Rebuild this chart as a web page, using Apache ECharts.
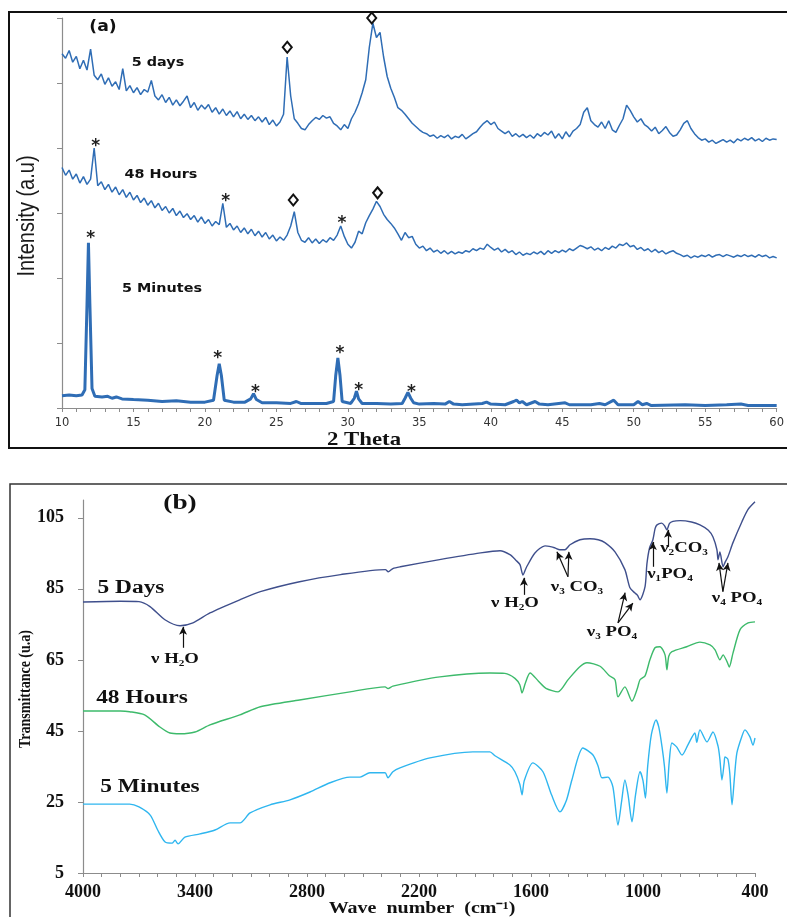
<!DOCTYPE html>
<html><head><meta charset="utf-8">
<script src="https://cdn.jsdelivr.net/npm/echarts@6/dist/echarts.min.js"></script>
<style>html,body{margin:0;padding:0;background:#fff}#c{width:787px;height:917px}</style>
</head><body><div id="c"></div>
<script>
// ---------- (a) XRD ----------
const xrdStart = 10, xrdStep = 0.25;   // sampling grid of the read curves
const xrd5Days = [5.45,5.38,5.50,5.32,5.41,5.22,5.35,5.20,5.52,5.12,
 5.05,5.14,4.98,5.08,4.95,5.02,4.90,5.22,4.88,4.96,
 4.85,4.93,4.82,4.90,4.86,5.04,4.80,4.74,4.82,4.70,
 4.78,4.66,4.74,4.65,4.72,4.80,4.62,4.70,4.58,4.66,
 4.60,4.67,4.55,4.62,4.52,4.60,4.50,4.57,4.48,4.56,
 4.45,4.52,4.44,4.50,4.42,4.48,4.40,4.47,4.36,4.43,
 4.34,4.40,4.52,5.40,4.80,4.45,4.38,4.30,4.28,4.36,
 4.42,4.47,4.44,4.50,4.46,4.48,4.38,4.34,4.28,4.36,
 4.30,4.45,4.55,4.68,4.85,5.05,5.55,5.92,5.70,5.78,
 5.40,5.10,4.92,4.78,4.62,4.58,4.52,4.45,4.38,4.33,
 4.28,4.24,4.22,4.18,4.20,4.15,4.19,4.16,4.20,4.14,
 4.18,4.16,4.21,4.14,4.18,4.22,4.25,4.32,4.38,4.42,
 4.36,4.40,4.30,4.26,4.22,4.26,4.18,4.22,4.17,4.21,
 4.16,4.20,4.15,4.22,4.18,4.24,4.20,4.26,4.15,4.22,
 4.14,4.25,4.17,4.26,4.30,4.36,4.55,4.62,4.42,4.36,
 4.32,4.40,4.30,4.42,4.28,4.24,4.35,4.45,4.66,4.58,
 4.48,4.40,4.45,4.36,4.32,4.26,4.32,4.22,4.27,4.33,
 4.24,4.18,4.20,4.28,4.38,4.42,4.30,4.22,4.16,4.12,
 4.14,4.09,4.12,4.07,4.10,4.13,4.09,4.12,4.08,4.14,
 4.11,4.15,4.12,4.16,4.11,4.14,4.10,4.15,4.12,4.14,
 4.13];
const xrd48Hours = [3.70,3.58,3.66,3.52,3.60,3.46,3.56,3.44,3.52,4.00,
 3.42,3.48,3.36,3.44,3.32,3.40,3.28,3.36,3.24,3.32,
 3.20,3.27,3.16,3.23,3.12,3.19,3.08,3.15,3.04,3.10,
 3.00,3.07,2.96,3.03,2.93,2.99,2.90,2.96,2.86,2.94,
 2.84,2.90,2.80,2.87,2.82,3.15,2.78,2.84,2.74,2.80,
 2.70,2.77,2.68,2.75,2.65,2.72,2.63,2.70,2.60,2.66,
 2.57,2.63,2.58,2.66,2.80,3.02,2.70,2.58,2.55,2.62,
 2.54,2.60,2.53,2.59,2.55,2.62,2.58,2.66,2.80,2.64,
 2.52,2.46,2.55,2.72,2.68,2.85,2.96,3.06,3.18,3.10,
 2.98,2.90,2.84,2.77,2.68,2.58,2.70,2.62,2.64,2.52,
 2.46,2.49,2.42,2.46,2.40,2.43,2.38,2.42,2.37,2.41,
 2.37,2.40,2.38,2.42,2.40,2.45,2.42,2.46,2.44,2.52,
 2.47,2.43,2.46,2.40,2.44,2.39,2.42,2.36,2.40,2.35,
 2.38,2.36,2.40,2.37,2.41,2.36,2.42,2.38,2.42,2.39,
 2.43,2.40,2.45,2.42,2.46,2.50,2.48,2.45,2.48,2.43,
 2.46,2.42,2.47,2.44,2.49,2.46,2.52,2.50,2.54,2.48,
 2.50,2.44,2.47,2.42,2.45,2.40,2.44,2.39,2.42,2.37,
 2.40,2.42,2.38,2.36,2.33,2.35,2.31,2.34,2.32,2.35,
 2.33,2.36,2.32,2.35,2.36,2.33,2.36,2.34,2.32,2.35,
 2.33,2.36,2.33,2.35,2.32,2.36,2.33,2.35,2.31,2.33,
 2.31];
const xrd5MinTheta = [10,10.5,11,11.4,11.6,11.75,11.85,11.95,12.1,12.3,12.8,13.2,13.5,13.8,14.2,15,16,17,18,19,20,20.6,20.85,21,21.15,21.35,22,22.8,23.2,23.4,23.6,24,25,26,26.4,26.7,27.5,28.5,29,29.15,29.3,29.45,29.6,30.2,30.45,30.6,30.75,31,32,33,33.8,34,34.2,34.4,34.6,35,36,36.8,37.1,37.4,38,39.4,39.7,40,41,41.6,41.8,42,42.2,42.5,43.1,43.4,44,45.2,45.5,47,47.6,48,48.6,48.9,50,50.3,50.6,50.9,51.2,53.6,55,56.5,57.5,58,60];
const xrd5MinVal = [0.19,0.20,0.19,0.20,0.28,1.60,2.54,1.60,0.30,0.18,0.17,0.18,0.15,0.17,0.14,0.13,0.12,0.10,0.11,0.09,0.09,0.12,0.50,0.68,0.50,0.12,0.09,0.09,0.14,0.22,0.13,0.08,0.08,0.07,0.10,0.07,0.07,0.07,0.10,0.50,0.77,0.50,0.10,0.07,0.15,0.26,0.14,0.07,0.07,0.06,0.07,0.15,0.24,0.15,0.08,0.06,0.07,0.06,0.10,0.06,0.05,0.07,0.09,0.06,0.05,0.10,0.12,0.08,0.10,0.05,0.10,0.06,0.05,0.08,0.05,0.05,0.07,0.05,0.12,0.05,0.05,0.10,0.05,0.07,0.04,0.05,0.04,0.05,0.06,0.04,0.04];
const xrdTicks = [10,15,20,25,30,35,40,45,50,55,60];
// peak markers: [theta, intensity]
const diamondMarks = [[25.76,5.55],[31.67,6.0],[26.18,3.2],[32.08,3.31]];
const starMarks = [[12.36,4.1],[21.46,3.26],[29.58,2.91],[12.01,2.68],[20.9,0.83],[23.54,0.32],[29.44,0.92],[30.76,0.34],[34.44,0.31]];

// ---------- (b) FTIR ----------
const ft5DaysWn = [4000,3800,3700,3641,3561,3480,3411,3320,3160,3050,2840,2620,2380,2365,2340,2300,2090,1870,1766,1713,1680,1659,1643,1625,1579,1525,1490,1472,1445,1418,1391,1338,1284,1240,1204,1150,1097,1070,1043,1030,1016,989,979,965,947,935,925,900,885,872,858,840,800,740,695,650,625,604,598,588,571,560,545,518,470,438,400];
const ft5DaysT  = [81.3,81.5,81.4,80.0,76.3,74.6,75.4,78.2,81.9,84.2,87.0,89.0,90.4,89.8,90.7,91.2,93.2,95.1,95.7,94.6,93.0,91.8,88.9,91.0,95.1,97.1,96.8,96.5,96.0,96.0,97.4,98.8,99.1,98.8,98.0,95.4,90.4,85.3,83.8,83.2,81.9,85.6,92.0,96.5,98.8,102.0,103.0,103.5,102.8,101.6,103.4,104.0,104.2,103.8,103.0,101.5,99.6,96.0,93.2,95.4,91.2,92.5,94.0,98.0,103.9,107.3,109.5];
const ft48HoursWn = [4000,3800,3750,3670,3588,3534,3480,3400,3320,3160,3050,2840,2570,2382,2366,2340,2088,1820,1740,1686,1660,1648,1630,1605,1560,1520,1455,1400,1340,1300,1230,1180,1150,1134,1097,1059,1030,1016,989,963,936,909,882,872,862,845,766,695,641,614,588,571,550,538,518,480,437,400];
const ft48HoursT  = [50.6,50.6,50.4,49.5,46.1,44.4,44.2,44.7,46.7,49.5,51.8,53.7,56.0,57.4,56.9,57.6,60.2,61.3,61.2,59.8,58.0,55.7,58.5,61.3,59.0,57.0,56.0,59.5,63.0,64.2,63.2,60.5,59.4,54.6,57.4,53.4,57.0,59.4,60.5,65.0,68.4,68.7,66.4,62.2,66.0,67.3,68.7,70.0,69.2,67.8,65.0,66.4,64.5,63.0,66.9,73.5,75.4,75.7];
const ft5MinWn = [4000,3750,3700,3640,3600,3560,3523,3507,3491,3454,3373,3293,3212,3159,3105,2998,2891,2784,2677,2570,2516,2463,2382,2366,2340,2302,2141,1911,1820,1793,1713,1686,1660,1648,1636,1590,1536,1490,1445,1410,1381,1322,1268,1240,1220,1188,1161,1134,1115,1097,1080,1059,1040,1016,1000,987,975,955,930,915,898,885,872,860,845,820,791,760,722,712,695,657,625,598,588,577,565,561,545,535,523,510,497,470,454,427,411,400];
const ft5MinT  = [24.4,24.4,23.6,21.3,17.1,13.7,13.4,14.2,13.2,15.1,16.0,17.1,19.1,19.1,21.9,24.2,25.6,27.8,30.4,32.0,32.0,33.2,33.2,31.8,33.5,34.6,37.4,39.1,39.1,38.0,35.4,33.5,30.0,27.0,31.0,36.0,33.5,27.0,22.2,25.5,31.2,40.2,38.2,35.0,31.8,32.0,29.2,18.5,25.0,31.2,27.0,19.4,27.0,33.5,31.0,26.1,35.0,44.0,48.1,46.0,40.5,35.0,27.5,36.0,41.6,40.5,38.2,41.0,44.4,41.8,45.3,41.9,44.7,40.7,37.0,31.2,36.0,37.7,37.0,33.0,24.2,32.0,38.8,43.5,45.3,43.3,41.0,43.0];
const ftirLabelValues = [400,1000,1600,2200,2800,3400,4000];
const ftirTickValues = [];
for (let w = 400; w <= 4000; w += 100) ftirTickValues.push(w);
const ftirYLabels = [5,25,45,65,85,105];
// band arrows: [[wnFrom,TFrom],[wnTo,TTo]]
const bandArrows = [
  [[3464,68.4],[3464,74.3]],
  [[1638,83.3],[1638,88.1]],
  [[1402,88.4],[1461,95.4]],
  [[1402,88.4],[1397,95.4]],
  [[1134,75.4],[1096,83.9]],
  [[1134,75.4],[1054,81.0]],
  [[947,91.2],[947,98.2]],
  [[866,96.8],[866,101.6]],
  [[572,84.2],[593,92.3]],
  [[572,84.2],[545,92.3]]
];

const xrdColor = '#2f6db5';
const zip = (a, b) => a.map((v, i) => [v, b[i]]);
const gridPts = arr => arr.map((v, i) => [xrdStart + i * xrdStep, v]);

const serifB = '"Liberation Serif","Times New Roman",serif';
function txt(x, y, text, font, opt) {
  opt = opt || {};
  return Object.assign({
    type: 'text', x: x, y: y, z: 50,
    style: { text: text, font: font, fill: opt.fill || '#111', align: 'center', verticalAlign: 'middle' }
  }, opt.el || {});
}

const chart = echarts.init(document.getElementById('c'), null, { renderer: 'canvas' });
const axisGray = '#8c8c8c';

const option = {
  animation: false,
  backgroundColor: '#fff',
  grid: [
    { left: 62, top: 18, width: 720, height: 390 },
    { left: 83, top: 500, width: 672, height: 373 }
  ],
  xAxis: [
    { gridIndex: 0, type: 'value', min: 10, max: 60, interval: 5,
      axisLine: { lineStyle: { color: axisGray, width: 1.2 } },
      axisTick: { length: 4, lineStyle: { color: axisGray } },
      minorTick: { show: true, splitNumber: 5, length: 4, lineStyle: { color: axisGray } },
      splitLine: { show: false },
      axisLabel: { fontFamily: 'DejaVu Sans', fontSize: 11.5, color: '#333', margin: 9 } },
    { gridIndex: 1, type: 'value', inverse: true, min: 400, max: 4000,
      axisLine: { lineStyle: { color: axisGray, width: 1.2 } },
      axisTick: { customValues: ftirTickValues, length: 4, lineStyle: { color: axisGray } },
      splitLine: { show: false },
      axisLabel: { customValues: ftirLabelValues, formatter: v => String(v),
        fontFamily: serifB, fontWeight: 'bold', fontSize: 18, color: '#111', margin: 10 } }
  ],
  yAxis: [
    { gridIndex: 0, type: 'value', min: 0, max: 6, interval: 1,
      axisLine: { show: true, lineStyle: { color: axisGray, width: 1.2 } },
      axisTick: { show: true, length: 5, lineStyle: { color: axisGray } },
      axisLabel: { show: false }, splitLine: { show: false } },
    { gridIndex: 1, type: 'value', min: 5, max: 110,
      axisLine: { show: true, lineStyle: { color: axisGray, width: 1.2 } },
      axisTick: { show: true, customValues: ftirYLabels, length: 5, lineStyle: { color: axisGray } },
      axisLabel: { customValues: ftirYLabels, formatter: v => String(v),
        fontFamily: serifB, fontWeight: 'bold', fontSize: 18, color: '#111', margin: 19 },
      splitLine: { show: false } }
  ],
  series: [
    { name: '5 days', type: 'line', xAxisIndex: 0, yAxisIndex: 0, data: gridPts(xrd5Days),
      symbol: 'none', lineStyle: { color: xrdColor, width: 1.5 },
      markPoint: { symbol: 'diamond', symbolSize: [9, 11], silent: true,
        itemStyle: { color: '#fff', borderColor: '#111', borderWidth: 2 }, label: { show: false },
        data: diamondMarks.map(p => ({ coord: p })) } },
    { name: '48 Hours', type: 'line', xAxisIndex: 0, yAxisIndex: 0, data: gridPts(xrd48Hours),
      symbol: 'none', lineStyle: { color: xrdColor, width: 1.5 },
      markPoint: { symbol: 'circle', symbolSize: 1, silent: true,
        itemStyle: { color: 'rgba(0,0,0,0)' },
        label: { show: true, position: 'inside', formatter: '*', offset: [0, 5],
          fontFamily: 'DejaVu Sans', fontWeight: 'bold', fontSize: 17, color: '#222' },
        data: starMarks.map(p => ({ coord: p })) } },
    { name: '5 Minutes', type: 'line', xAxisIndex: 0, yAxisIndex: 0, data: zip(xrd5MinTheta, xrd5MinVal),
      symbol: 'none', lineStyle: { color: xrdColor, width: 3 } },

    { name: '5 Days', type: 'line', xAxisIndex: 1, yAxisIndex: 1, data: zip(ft5DaysWn, ft5DaysT),
      symbol: 'none', smooth: 0.25, lineStyle: { color: '#3f4f8c', width: 1.4 },
      markLine: { silent: true, symbol: ['none', 'arrow'], symbolSize: [6, 8],
        lineStyle: { color: '#111', width: 1.2, type: 'solid' }, label: { show: false },
        data: bandArrows.map(a => [{ coord: a[0] }, { coord: a[1] }]) } },
    { name: '48 Hours FTIR', type: 'line', xAxisIndex: 1, yAxisIndex: 1, data: zip(ft48HoursWn, ft48HoursT),
      symbol: 'none', smooth: 0.25, lineStyle: { color: '#3dba6b', width: 1.4 } },
    { name: '5 Minutes FTIR', type: 'line', xAxisIndex: 1, yAxisIndex: 1, data: zip(ft5MinWn, ft5MinT),
      symbol: 'none', smooth: 0.25, lineStyle: { color: '#2fb6ef', width: 1.4 } }
  ],
  graphic: [
    { type: 'rect', z: 0, shape: { x: 9, y: 12, width: 800, height: 436 }, style: { fill: 'none', stroke: '#111', lineWidth: 2 } },
    { type: 'rect', z: 0, shape: { x: 10, y: 484, width: 800, height: 460 }, style: { fill: 'none', stroke: '#333', lineWidth: 1.5 } },
    txt(103, 27, '(a)', 'bold 15px "DejaVu Sans"', { el: { scaleX: 1.15 } }),
    txt(158, 63, '5 days', 'bold 12.5px "DejaVu Sans"', { el: { scaleX: 1.15 } }),
    txt(161, 175, '48 Hours', 'bold 12.5px "DejaVu Sans"', { el: { scaleX: 1.15 } }),
    txt(162, 289, '5 Minutes', 'bold 12.5px "DejaVu Sans"', { el: { scaleX: 1.15 } }),
    txt(28, 216, 'Intensity (a.u)', '20px "Liberation Sans Narrow","Liberation Sans",sans-serif', { fill: '#1a1a1a', el: { rotation: Math.PI / 2, scaleY: 1.15 } }),
    txt(364, 440, '2 Theta', 'bold 19px ' + serifB, { el: { scaleX: 1.2 } }),

    txt(180, 504, '(b)', 'bold 21px ' + serifB, { el: { scaleX: 1.3 } }),
    txt(131, 588, '5 Days', 'bold 18px ' + serifB, { el: { scaleX: 1.3 } }),
    txt(142, 698, '48 Hours', 'bold 18px ' + serifB, { el: { scaleX: 1.3 } }),
    txt(150, 787, '5 Minutes', 'bold 18px ' + serifB, { el: { scaleX: 1.3 } }),
    txt(25, 689, 'Transmittance (u.a)', 'bold 14px ' + serifB, { el: { rotation: Math.PI / 2, scaleY: 1.25 } }),
    txt(422, 909, 'Wave  number  (cm⁻¹)', 'bold 16px ' + serifB, { el: { scaleX: 1.25 } }),

    txt(175, 659, 'ν H₂O', 'bold 15px ' + serifB, { el: { scaleX: 1.25 } }),
    txt(515, 603, 'ν H₂O', 'bold 15px ' + serifB, { el: { scaleX: 1.25 } }),
    txt(577, 587, 'ν₃ CO₃', 'bold 15px ' + serifB, { el: { scaleX: 1.25 } }),
    txt(612, 632, 'ν₃ PO₄', 'bold 15px ' + serifB, { el: { scaleX: 1.25 } }),
    txt(670, 574, 'ν₁PO₄', 'bold 15px ' + serifB, { el: { scaleX: 1.25 } }),
    txt(684, 548, 'ν₂CO₃', 'bold 15px ' + serifB, { el: { scaleX: 1.25 } }),
    txt(737, 598, 'ν₄ PO₄', 'bold 15px ' + serifB, { el: { scaleX: 1.25 } })
  ]
};
chart.setOption(option);
</script>
</body></html>
